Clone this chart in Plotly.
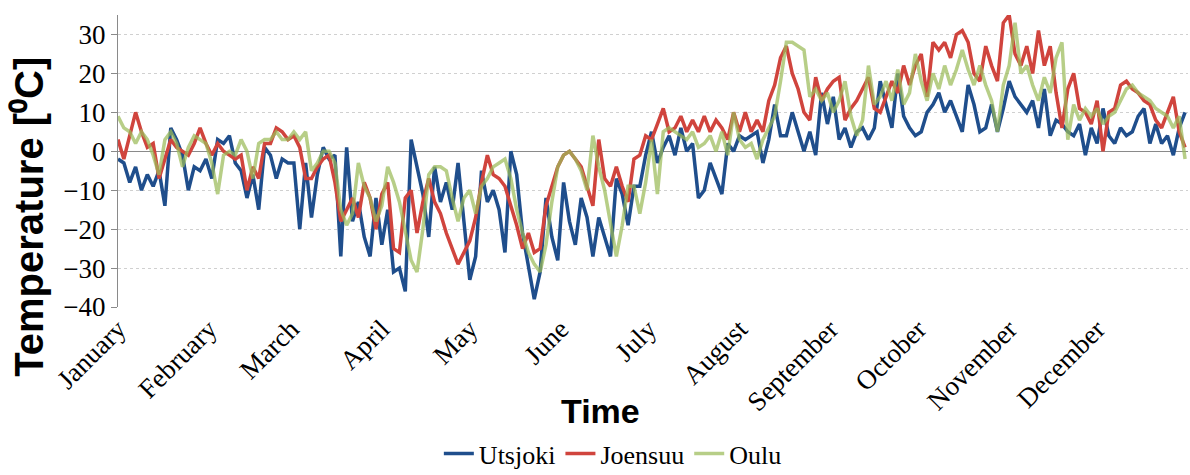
import plotly.graph_objects as go

# Month labels and their start day (day-of-year)
months = ["January", "February", "March", "April", "May", "June", "July",
          "August", "September", "October", "November", "December"]
month_start = [0, 31, 59, 90, 120, 151, 181, 212, 243, 273, 304, 334]

STEP = 2  # days between read-off samples

utsjoki = [
    -2, -3, -8, -4, -10, -6, -9, -5, -14, 6,
    3, -1, -10, -4, -5, -2, -7, 3, 2, 4,
    -3, -5, -12, -6, -15, 1, -1, -7, -2, -3,
    -3, -20, -3, -17, -6, 1, -2, -1, -27, 1,
    -18, -13, -22, -27, -12, -24, -15, -31, -30, -36,
    3, -4, -11, -22, -4, -13, -8, -15, -3, -18,
    -33, -27, -5, -13, -10, -15, -26, 0, -6, -21,
    -30, -38, -31, -12, -22, -28, -8, -18, -24, -12,
    -17, -27, -17, -22, -27, -7, -11, -19, -9, -9,
    -1, 5, -3, 1, 4, -1, 6, 0, 2, -12,
    -10, -3, -7, -11, 2, 0, 4, 3, 4, 5,
    -3, 3, 12, 4, 4, 10, 5, 0, 5, -1,
    15, 7, 14, 3, 6, 1, 5, 6, 3, 6,
    18, 12, 6, 20, 9, 6, 4, 5, 10, 12,
    15, 10, 13, 9, 5, 17, 12, 5, 6, 12,
    5, 11, 18, 14, 12, 10, 13, 6, 16, 4,
    8, 7, 5, 4, 7, -1, 6, 2, 11, 4,
    2, 6, 4, 5, 9, 11, 2, 7, 2, 4,
    -1, 6, 10,
]

joensuu = [
    3, -2, 4, 10, 5, 1, 2, -7, -2, 3,
    1, 0, -1, 2, 6, 2, -1, 2, 0, -1,
    -2, -1, -10, -4, -7, 2, 2, 6, 5, 3,
    4, 1, -7, -7, -4, -2, -1, -8, -18, -15,
    -12, -17, -8, -12, -20, -11, -8, -25, -26, -12,
    -10, -21, -13, -7, -13, -16, -21, -25, -29, -26,
    -23, -17, -8, -1, -6, -7, -9, -14, -19, -25,
    -21, -26, -25, -14, -9, -4, -1, 0, -2, -4,
    -9, -14, 3, -7, -9, -4, -9, -13, -2, -1,
    4, 3, 7, 11, 5, 6, 9, 5, 8, 5,
    9, 5, 8, 6, 3, 10, 5, 10, 5, 8,
    5, 13, 17, 24, 27, 20, 16, 10, 8, 19,
    13, 16, 18, 19, 8, 11, 13, 16, 19, 11,
    10, 14, 18, 15, 22, 17, 22, 25, 14, 28,
    26, 28, 24, 30, 31, 28, 20, 18, 27, 22,
    18, 33, 35, 25, 22, 27, 20, 31, 22, 27,
    15, 6, 16, 20, 11, 10, 7, 13, 0, 10,
    11, 17, 18, 16, 15, 13, 12, 8, 6, 10,
    14, 5, 1,
]

oulu = [
    9, 6, 5, 2, 5, 3, -1, -6, 3, 5,
    2, -4, 1, 4, 3, 2, -3, -11, -1, 0,
    -1, 3, 0, -7, 2, 3, 3, 5, 3, 3,
    5, 3, 5, -5, -3, 0, 0, -3, -15, -19,
    -16, -3, -9, -12, -18, -14, -4, -8, -13, -21,
    -28, -31, -20, -6, -4, -4, -5, -12, -18, -12,
    -10, -16, -9, -7, -4, -3, -2, -7, -15, -21,
    -26, -29, -31, -24, -13, -4, -1, 0, -2, -5,
    -10, 4, -4, -10, -18, -27, -19, -9, -9, -16,
    -8, 3, -11, 5, 6, 5, 4, 3, 5, 1,
    2, 4, 0, 5, -1, 10, 3, 1, 2, -2,
    3, 6, 9, 18, 28, 28, 27, 26, 14, 16,
    13, 15, 10, 13, 18, 9, 4, 8, 22, 12,
    14, 18, 13, 21, 12, 15, 25, 18, 13, 20,
    16, 22, 17, 21, 26, 21, 17, 22, 17, 13,
    5, 17, 22, 33, 20, 22, 17, 13, 19, 15,
    24, 28, 3, 12, 8, 11, 9, 11, 7, 9,
    10, 13, 16, 17, 15, 14, 13, 11, 10, 9,
    6, 9, -2,
]

y_ticks = [-40, -30, -20, -10, 0, 10, 20, 30]

series = [
    ("Utsjoki", utsjoki, "#1f4e8c"),
    ("Joensuu", joensuu, "#d0443d"),
    ("Oulu", oulu, "rgba(155,187,89,0.72)"),
]

fig = go.Figure()
for name, vals, color in series:
    days = [i * STEP for i in range(len(vals))]
    fig.add_trace(go.Scatter(
        x=days, y=vals, mode="lines", name=name,
        line=dict(color=color, width=3.5),
    ))

serif = "Liberation Serif"
sans = "Liberation Sans"

fig.update_layout(
    width=1190, height=475,
    margin=dict(l=118, r=2, t=15, b=168, autoexpand=False),
    paper_bgcolor="white", plot_bgcolor="white",
    font=dict(family=serif, size=26, color="black"),
    showlegend=True,
    legend=dict(orientation="h", xref="container", yref="container",
                x=0.515, y=0.045, xanchor="center", yanchor="middle",
                font=dict(family=serif, size=26, color="black"),
                itemwidth=30, traceorder="normal", tracegroupgap=0,
                bgcolor="rgba(0,0,0,0)"),
    annotations=[
        dict(text="<b>Time</b>", xref="paper", yref="paper", x=0.451, y=-0.356,
             xanchor="center", yanchor="middle", showarrow=False,
             font=dict(family=sans, size=34, color="black")),
        dict(text="<b>Temperature [⁰C]</b>", xref="paper", yref="paper", x=-0.083, y=0.31,
             xanchor="center", yanchor="middle", showarrow=False, textangle=-90,
             font=dict(family=sans, size=40, color="black")),
    ],
)
fig.update_xaxes(
    range=[0, 365], tickmode="array", tickvals=month_start, ticktext=months,
    tickangle=-45, tickfont=dict(family=serif, size=27, color="black"),
    showgrid=False, zeroline=False, showline=False, ticks="", automargin=False,
)
fig.update_yaxes(
    range=[-40, 35], tickmode="array", tickvals=y_ticks,
    tickfont=dict(family=serif, size=27, color="black"),
    showgrid=True, gridcolor="#d0d0d0", griddash="dot", gridwidth=1,
    zeroline=True, zerolinecolor="#8a8a8a", zerolinewidth=1,
    showline=True, linecolor="#8a8a8a", linewidth=1,
    ticks="outside", ticklen=6, tickcolor="#8a8a8a", automargin=False,
)

fig.write_html("out.html", config={"displayModeBar": False})

# remove the browser's default page margin so the figure sits at (0, 0)
with open("out.html", "r", encoding="utf-8") as f:
    html = f.read()
html = html.replace("<body>", '<body style="margin:0;padding:0;overflow:hidden">', 1)
with open("out.html", "w", encoding="utf-8") as f:
    f.write(html)
